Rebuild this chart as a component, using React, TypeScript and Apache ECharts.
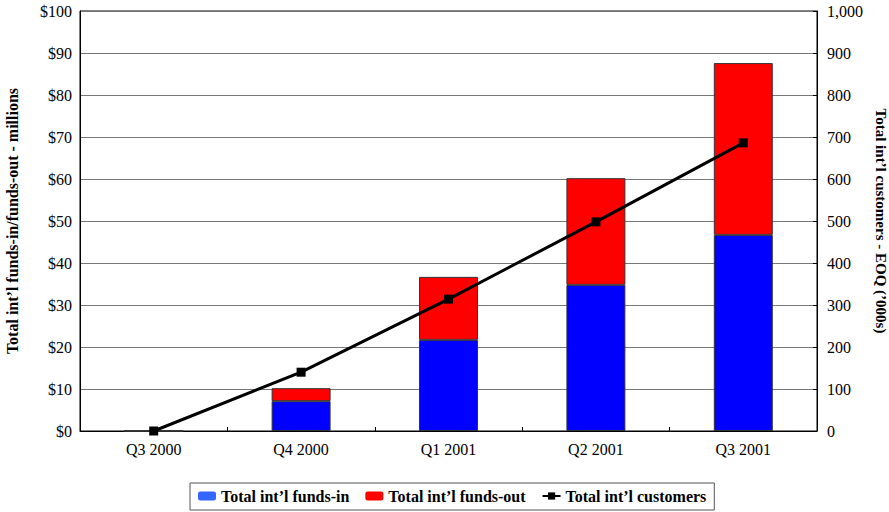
import React, { useEffect, useRef } from "react";
import * as echarts from "echarts";

const categories = ["Q3 2000", "Q4 2000", "Q1 2001", "Q2 2001", "Q3 2001"];
const fundsIn = [0, 7.1, 21.7, 34.8, 46.7];
const fundsOut = [0, 3.1, 15.0, 25.4, 40.9];
const customers = [0, 140, 314, 498, 686];

const FONT = "Liberation Serif";

export default function App() {
  const ref = useRef<HTMLDivElement>(null);
  useEffect(() => {
    const chart = echarts.init(ref.current!, null, { renderer: "svg" });
    chart.setOption({
      animation: false,
      backgroundColor: "#ffffff",
      textStyle: { fontFamily: FONT },
      grid: {
        left: 80,
        right: 72,
        top: 11,
        bottom: 81,
        show: true,
        borderColor: "#000",
        borderWidth: 1,
        outerBoundsMode: "none",
        containLabel: false,
      },
      legend: {
        left: 190,
        top: 483,
        padding: [5, 8, 6, 8],
        itemGap: 16,
        borderColor: "#555",
        borderWidth: 1,
        itemWidth: 18,
        itemHeight: 9,
        textStyle: { fontFamily: FONT, fontWeight: "bold", fontSize: 16, color: "#000" },
        data: [
          { name: "Total int\u2019l funds-in", itemStyle: { color: "#3366ff", borderWidth: 0 } },
          { name: "Total int\u2019l funds-out", itemStyle: { color: "#ff0000", borderWidth: 0 } },
          { name: "Total int\u2019l customers" },
        ],
      },
      xAxis: {
        type: "category",
        data: categories,
        boundaryGap: true,
        axisLine: { lineStyle: { color: "#000", width: 1 } },
        axisTick: { show: true, inside: true, length: 4, lineStyle: { color: "#000" } },
        axisLabel: { fontFamily: FONT, fontSize: 16, color: "#000", margin: 10 },
      },
      yAxis: [
        {
          type: "value",
          min: 0,
          max: 100,
          interval: 10,
          name: "Total int\u2019l funds-in/funds-out - millions",
          nameLocation: "middle",
          nameGap: 60,
          nameRotate: 90,
          nameTextStyle: { fontFamily: FONT, fontWeight: "bold", fontSize: 16, color: "#000" },
          axisLine: { show: true, lineStyle: { color: "#000" } },
          axisTick: { show: false },
          axisLabel: { fontFamily: FONT, fontSize: 16, color: "#000", formatter: "${value}", margin: 8 },
          splitLine: { show: true, lineStyle: { color: "#777", width: 1 } },
        },
        {
          type: "value",
          min: 0,
          max: 1000,
          interval: 100,
          name: "Total int\u2019l customers - EOQ (\u2019000s)",
          nameLocation: "middle",
          nameGap: 56,
          nameRotate: -90,
          nameTextStyle: { fontFamily: FONT, fontWeight: "bold", fontSize: 15, color: "#000" },
          axisLine: { show: true, lineStyle: { color: "#000" } },
          axisTick: { show: true, inside: true, length: 4, lineStyle: { color: "#000" } },
          axisLabel: {
            fontFamily: FONT,
            fontSize: 16,
            color: "#000",
            margin: 10,
            formatter: (v: number) => v.toLocaleString("en-US"),
          },
          splitLine: { show: false },
        },
      ],
      series: [
        {
          name: "Total int\u2019l funds-in",
          type: "bar",
          stack: "funds",
          data: fundsIn,
          barWidth: "40%",
          itemStyle: { color: "#0000ff", borderColor: "#333", borderWidth: 1 },
        },
        {
          name: "Total int\u2019l funds-out",
          type: "bar",
          stack: "funds",
          data: fundsOut,
          barWidth: "40%",
          itemStyle: { color: "#ff0000", borderColor: "#333", borderWidth: 1 },
        },
        {
          name: "Total int\u2019l customers",
          type: "line",
          yAxisIndex: 1,
          data: customers,
          symbol: "rect",
          symbolSize: 9,
          lineStyle: { color: "#000", width: 3 },
          itemStyle: { color: "#000" },
        },
      ],
    });
    return () => chart.dispose();
  }, []);
  return <div ref={ref} style={{ width: 889, height: 512, position: "absolute", left: 0, top: 0 }} />;
}
